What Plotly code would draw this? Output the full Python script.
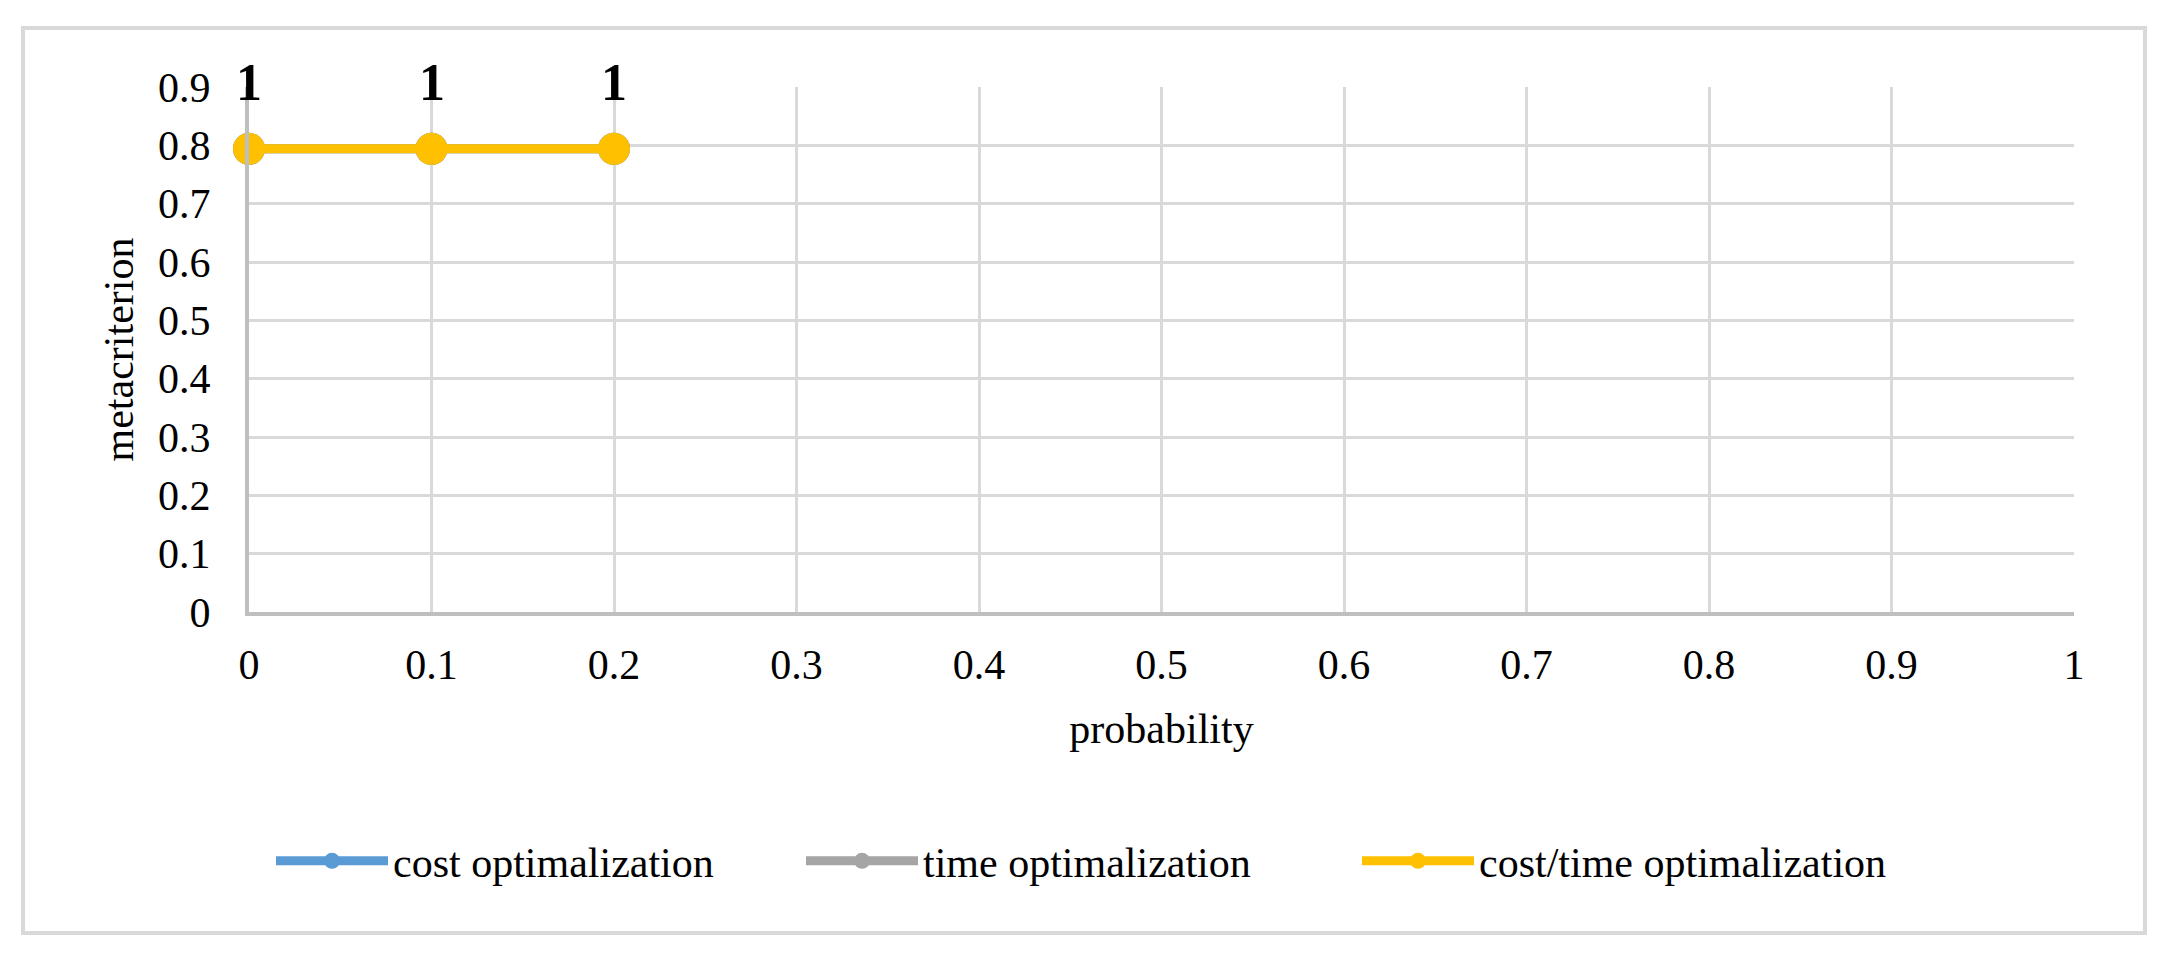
import plotly.graph_objects as go

# ---- data ----
probability = [0, 0.1, 0.2]
cost_opt = [0.794, 0.794, 0.794]
time_opt = [0.794, 0.794, 0.794]
cost_time_opt = [0.794, 0.794, 0.794]
point_labels = ["1", "1", "1"]

series_names = ["cost optimalization", "time optimalization", "cost/time optimalization"]
series_colors = ["#5B9BD5", "#A5A5A5", "#FFC000"]
x_ticks = [0, 0.1, 0.2, 0.3, 0.4, 0.5, 0.6, 0.7, 0.8, 0.9, 1]
y_ticks = [0, 0.1, 0.2, 0.3, 0.4, 0.5, 0.6, 0.7, 0.8, 0.9]

FONT = "Liberation Serif, Times New Roman, serif"
W, H = 2170, 955
L, R, T, B = 249, 2170 - 2074, 87, 955 - 612
PW, PH = W - L - R, H - T - B


def px_x(p):
    return (p - L) / PW


def px_y(p):
    return (H - B - p) / PH


legend_ids = ["legend", "legend2", "legend3"]
legend_left_px = [271, 801, 1357]

fig = go.Figure()
for name, ys, col, lid in zip(series_names, [cost_opt, time_opt, cost_time_opt], series_colors, legend_ids):
    fig.add_trace(go.Scatter(
        x=probability, y=ys, name=name, mode="lines+markers",
        line=dict(color=col, width=9),
        marker=dict(color=col, size=32),
        cliponaxis=False, legend=lid,
    ))

for xv, yv, lab in zip(probability, cost_time_opt, point_labels):
    fig.add_annotation(x=xv, y=yv, text="<b>" + lab + "</b>", showarrow=False,
                       yanchor="bottom", yshift=36, xanchor="center",
                       font=dict(family=FONT, size=52, color="black"))

# outer chart border
fig.add_shape(type="rect", xref="paper", yref="paper",
              x0=px_x(23), x1=px_x(2145), y0=px_y(933), y1=px_y(28),
              line=dict(color="#D9D9D9", width=4), fillcolor="rgba(0,0,0,0)", layer="below")

legend_common = dict(orientation="h", xanchor="left", yanchor="middle",
                     font=dict(family=FONT, size=42, color="black"), itemwidth=112,
                     bgcolor="rgba(0,0,0,0)", itemsizing="trace")
layout_legends = {}
for lid, lx in zip(legend_ids, legend_left_px):
    layout_legends[lid] = dict(legend_common, x=px_x(lx), y=px_y(861))

fig.update_layout(
    width=W, height=H,
    margin=dict(l=L, r=R, t=T, b=B, autoexpand=False),
    paper_bgcolor="white", plot_bgcolor="white",
    font=dict(family=FONT, size=42, color="black"),
    showlegend=True,
    xaxis=dict(range=[0, 1], tickvals=x_ticks, ticktext=[f"{v:g}" for v in x_ticks],
               showgrid=True, gridcolor="#D9D9D9", gridwidth=3,
               showline=True, linecolor="#BFBFBF", linewidth=4, zeroline=False,
               ticks="", ticklabelstandoff=13,
               title=dict(text="probability", font=dict(family=FONT, size=42), standoff=27),
               automargin=False, fixedrange=True),
    yaxis=dict(range=[0, 0.9], tickvals=y_ticks, ticktext=[f"{v:g}" for v in y_ticks],
               showgrid=True, gridcolor="#D9D9D9", gridwidth=3,
               showline=True, linecolor="#BFBFBF", linewidth=4, zeroline=False,
               ticks="", ticklabelstandoff=26,
               title=dict(text="metacriterion", font=dict(family=FONT, size=42), standoff=12),
               automargin=False, fixedrange=True),
    **layout_legends,
)

fig.write_html("out.html", config={"displayModeBar": False},
               post_script="document.body.style.margin='0';document.body.style.overflow='hidden';")
